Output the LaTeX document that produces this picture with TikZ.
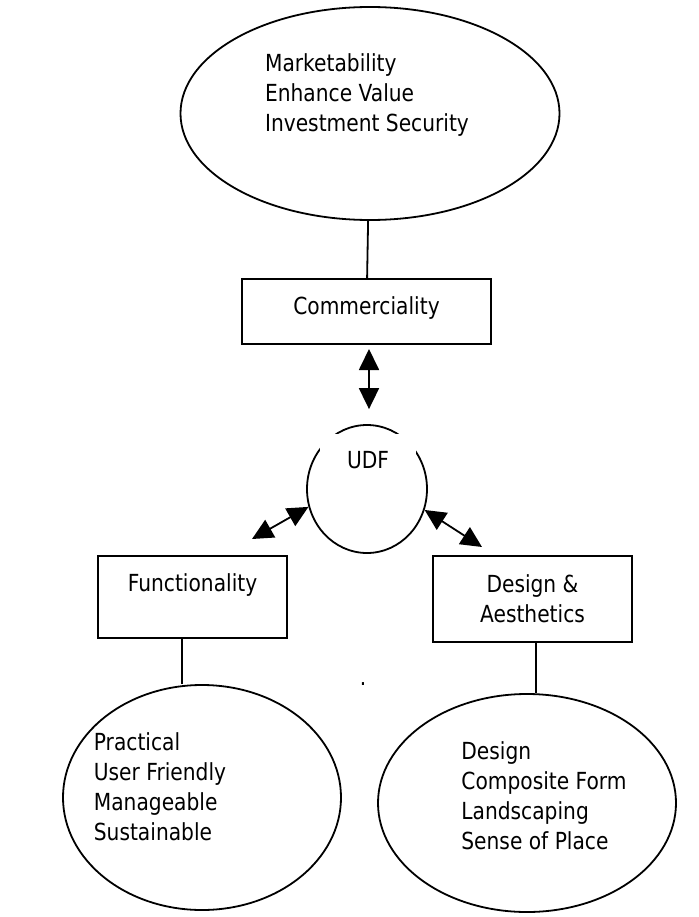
\documentclass[tikz,border=0pt]{standalone}
\usepackage{fontspec}
\setmainfont[FakeStretch=0.86]{DejaVu Sans}
\usetikzlibrary{shapes.geometric,arrows.meta}
\tikzset{
  oval/.style={draw, ellipse, line width=1.8pt, inner sep=0pt},
  framebox/.style={draw, rectangle, line width=2pt, inner sep=0pt},
  itemlist/.style={align=left, inner sep=0pt},
  conn/.style={line width=1.8pt},
  dblarrow/.style={line width=1.8pt, {Triangle[length=21pt,width=20pt]}-{Triangle[length=21pt,width=20pt]}}
}
\begin{document}
\begin{tikzpicture}[x=1pt,y=-1pt,font=\fontsize{23.5}{30}\selectfont]
  \useasboundingbox (0,0) rectangle (698,917);
  \node[oval, minimum width=379pt, minimum height=213pt] (mktoval) at (370,113.5) {};
  \node[itemlist] (mkt) at (367,95) {Marketability\\Enhance Value\\Investment Security};
  \node[framebox, minimum width=249pt, minimum height=65pt, text height=35.5pt, text depth=29.5pt] (comm) at (366.5,311.5) {Commerciality};
  \node[oval, minimum width=120pt, minimum height=128pt] (udf) at (367,489) {};
  \node[fill=white, minimum width=96pt, minimum height=52pt, inner sep=0pt] (udftext) at (368,460) {UDF};
  \node[framebox, minimum width=189pt, minimum height=82pt, text height=35.5pt, text depth=46.5pt] (func) at (192.5,597) {Functionality};
  \node[framebox, align=center, minimum width=199pt, minimum height=86pt] (des) at (532.5,599) {Design \&\\Aesthetics};
  \node[oval, minimum width=278pt, minimum height=225pt] (praoval) at (202,797.5) {};
  \node[itemlist] (pra) at (160,787) {Practical\\User Friendly\\Manageable\\Sustainable};
  \node[oval, minimum width=298pt, minimum height=218pt] (desoval) at (527,803) {};
  \node[itemlist] (dsn) at (544,795.5) {Design\\Composite Form\\Landscaping\\Sense of Place};
  \node[inner sep=0pt] (dot) at (363,684) {.};
  \coordinate (funcin) at (252,539);
  \coordinate (desin) at (482,547);
  \draw[conn] (mktoval) -- (comm);
  \draw[dblarrow, shorten <=4pt, shorten >=15pt] ([xshift=2.5pt]comm.south) -- ([xshift=2pt]udf.north);
  \draw[dblarrow] (udf.197) -- (funcin);
  \draw[dblarrow] (udf.340) -- (desin);
  \draw[conn] ([xshift=-10.5pt]func.south) -- ([xshift=-10.5pt]func.south |- praoval.north);
  \draw[conn] ([xshift=3.5pt]des.south) -- ([xshift=3.5pt]des.south |- desoval.north);
\end{tikzpicture}
\end{document}
